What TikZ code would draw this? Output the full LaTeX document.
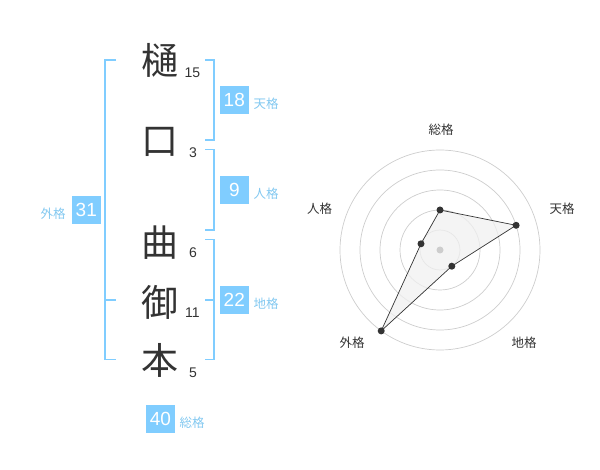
\documentclass[tikz,border=0pt]{standalone}
\usepackage{fontspec}
\setmainfont{Liberation Sans}
\newfontfamily\cjk{Noto Sans CJK JP}
\definecolor{bblue}{RGB}{128,205,255}
\definecolor{lblue}{RGB}{130,200,240}
\definecolor{ink}{RGB}{51,51,51}
\definecolor{ringc}{RGB}{205,205,205}
\definecolor{polyfill}{RGB}{240,240,240}
\begin{document}
\begin{tikzpicture}[x=1pt,y=-1pt,
  kanji/.style={font=\cjk\fontsize{37}{37}\selectfont,text=ink,inner sep=0pt},
  strokes/.style={font=\fontsize{14}{14}\selectfont,text=ink,inner sep=0pt},
  numbox/.style={fill=bblue,text=white,font=\fontsize{19}{19}\selectfont,minimum width=28.5pt,minimum height=28.5pt,inner sep=0pt},
  kakulbl/.style={font=\cjk\fontsize{12.5}{12.5}\selectfont,text=lblue,inner sep=0pt},
  bracket/.style={draw=bblue,line width=1.6pt},
  ring/.style={draw=ringc,line width=0.7pt},
  radlbl/.style={font=\cjk\fontsize{12.5}{12.5}\selectfont,text=ink,inner sep=0pt},
  dot/.style={circle,fill=ink,inner sep=0pt,minimum size=7pt}]
\useasboundingbox (0,0) rectangle (600,470);
% kanji
\node[kanji] (k1) at (160,60) {樋};
\node[kanji] (k2) at (160,142) {口};
\node[kanji] (k3) at (160,243) {曲};
\node[kanji] (k4) at (160,302) {御};
\node[kanji] (k5) at (160,360) {本};
% stroke counts
\node[strokes] (s1) at (192.5,73) {15};
\node[strokes] (s2) at (193,153) {3};
\node[strokes] (s3) at (193,253) {6};
\node[strokes] (s4) at (192.5,313) {11};
\node[strokes] (s5) at (193,373) {5};
% brackets right
\draw[bracket] (205,60) -- (214,60) -- (214,140) -- (205,140);
\draw[bracket] (205,149.5) -- (214,149.5) -- (214,230) -- (205,230);
\draw[bracket] (205,239.5) -- (214,239.5) -- (214,359.5) -- (205,359.5);
\draw[bracket] (205,300) -- (214,300);
% bracket left
\draw[bracket] (116,60) -- (105,60) -- (105,359.5) -- (116,359.5);
\draw[bracket] (105,300) -- (116,300);
% boxes
\node[numbox] (b1) at (234.3,100) {18};
\node[kakulbl] (l1) at (266,104) {天格};
\node[numbox] (b2) at (234.3,190) {9};
\node[kakulbl] (l2) at (266,194) {人格};
\node[numbox] (b3) at (234.3,300) {22};
\node[kakulbl] (l3) at (266,304) {地格};
\node[numbox] (b4) at (86.3,210) {31};
\node[kakulbl] (l4) at (53,214) {外格};
\node[numbox] (b5) at (160.5,419) {40};
\node[kakulbl] (l5) at (192,423) {総格};
% radar
\coordinate (c) at (440,250);
\foreach \r in {20,40,60,80,100} \draw[ring] (c) circle (\r);
\coordinate (ps) at (440,210);
\coordinate (pt) at (516.1,225.3);
\coordinate (pc) at (451.8,266.2);
\coordinate (pg) at (381.2,330.9);
\coordinate (pj) at (421,243.8);
\filldraw[fill=polyfill,fill opacity=0.75,draw=ink,line width=0.7pt] (ps) -- (pt) -- (pc) -- (pg) -- (pj) -- cycle;
\fill[ringc] (c) circle (3.5);
\foreach \p in {ps,pt,pc,pg,pj} \node[dot] at (\p) {};
\node[radlbl] (r1) at (441,130) {総格};
\node[radlbl] (r2) at (562,208.5) {天格};
\node[radlbl] (r3) at (319.5,209) {人格};
\node[radlbl] (r4) at (352,342.5) {外格};
\node[radlbl] (r5) at (524,342.5) {地格};
\end{tikzpicture}
\end{document}
